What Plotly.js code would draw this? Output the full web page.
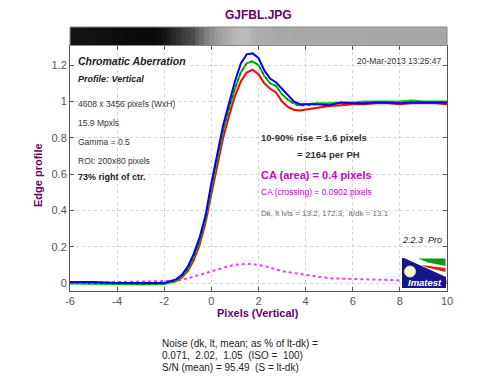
<!DOCTYPE html>
<html><head><meta charset="utf-8">
<script src="https://cdn.plot.ly/plotly-3.0.1.min.js"></script>
<style>html,body{margin:0;padding:0;background:#fff}#c{width:500px;height:384px}</style>
</head><body><div id="c"></div>
<script>
// ---- data ----
const xPix = [-6,-5,-4,-3,-2,-1.5,-1.25,-1,-0.75,-0.5,-0.25,0,0.25,0.5,0.75,1,1.25,1.5,1.75,2,2.25,2.5,2.75,3,3.25,3.5,3.75,4,4.5,5,5.5,6,6.5,7,7.5,8,8.5,9,9.5,10];
const redProfile = [0.0,0.0,-0.003,-0.005,-0.003,0.01,0.03,0.065,0.125,0.21,0.33,0.49,0.65,0.8,0.92,1.03,1.11,1.16,1.175,1.15,1.1,1.07,1.05,1.0,0.97,0.955,0.95,0.955,0.962,0.975,0.98,0.985,0.985,0.99,0.99,0.985,0.99,0.99,0.99,0.985];
const greenProfile = [-0.003,-0.003,-0.006,-0.008,-0.005,0.01,0.035,0.075,0.14,0.23,0.35,0.52,0.68,0.84,0.96,1.07,1.16,1.21,1.22,1.2,1.14,1.1,1.085,1.04,1.01,0.99,0.98,0.985,0.99,0.99,0.995,0.995,1.0,1.0,1.0,1.0,1.005,1.0,1.0,1.0];
const blueProfile = [0.005,0.005,0.0,-0.002,0.0,0.02,0.045,0.09,0.16,0.25,0.37,0.55,0.71,0.87,0.99,1.11,1.21,1.26,1.265,1.24,1.17,1.125,1.105,1.07,1.03,1.0,0.985,0.985,0.985,0.98,0.995,0.99,0.99,0.995,0.995,0.99,0.995,0.995,0.995,0.995];
const lumProfile = [0.0,0.0,-0.004,-0.006,-0.004,0.012,0.036,0.076,0.142,0.232,0.352,0.524,0.684,0.843,0.962,1.072,1.163,1.214,1.224,1.203,1.142,1.1,1.083,1.04,1.008,0.985,0.975,0.978,0.983,0.985,0.99,0.99,0.993,0.995,0.995,0.993,0.998,0.996,0.996,0.995];
const caDiff = [0.0,0.003,0.005,0.006,0.008,0.012,0.018,0.025,0.035,0.045,0.055,0.065,0.075,0.085,0.093,0.1,0.103,0.105,0.104,0.1,0.093,0.085,0.075,0.065,0.06,0.055,0.05,0.045,0.035,0.026,0.024,0.022,0.02,0.018,0.017,0.016,0.014,0.012,0.01,0.008];
// edge image strip (gray level 0-255)
const bandX = [-6,-5.5,-5,-4.5,-4,-3.5,-3,-2.5,-2.2,-2,-1.8,-1.6,-1.4,-1.2,-1,-0.8,-0.6,-0.4,-0.2,0,0.2,0.4,0.6,0.8,1,1.2,1.4,1.6,1.8,2,2.5,3,4,5,6,7,8,9,10];
const bandGray = [20,19,17,15,13,11,10,10,14,22,30,40,50,60,68,75,95,110,128,140,152,160,168,175,182,186,186,184,178,172,170,169,168,168,168,167,167,167,166];
const xTicks = [-6,-4,-2,0,2,4,6,8,10];
const xTickLabels = ['-6','-4','-2','0','2','4','6','8','10'];
const yTicks = [0,0.2,0.4,0.6,0.8,1,1.2];
const yTickLabels = ['0','0.2','0.4','0.6','0.8','1','1.2'];

// ---- layout helpers (pixel -> paper) ----
const PX = p => (p - 70) / 377;
const PY = p => (291 - p) / 264;
const FF = 'Liberation Sans, Arial, sans-serif';

const traces = [
  {x: bandX, y: [0], z: [bandGray], type: 'heatmap', xaxis: 'x', yaxis: 'y2',
   colorscale: [[0, 'rgb(0,0,0)'], [1, 'rgb(255,255,255)']], zmin: 0, zmax: 255,
   showscale: false, hoverinfo: 'skip'},
  {x: xPix, y: caDiff, mode: 'lines', line: {color: '#ff33ff', width: 2, dash: 'dot'}},
  {x: xPix, y: redProfile, mode: 'lines', line: {color: '#ff0000', width: 2}},
  {x: xPix, y: greenProfile, mode: 'lines', line: {color: '#00c800', width: 2}},
  {x: xPix, y: lumProfile, mode: 'lines', line: {color: '#333333', width: 1, dash: 'dot'}},
  {x: xPix, y: blueProfile, mode: 'lines', line: {color: '#0000ff', width: 2}}
];

function txt(t, px, py, o) {
  return Object.assign({text: t, x: PX(px), y: PY(py), xref: 'paper', yref: 'paper',
    xanchor: 'left', yanchor: 'middle', showarrow: false,
    font: {family: FF, size: 9, color: '#333'}}, o || {});
}

const annotations = [
  txt('<b>GJFBL.JPG</b>', 258, 15, {xanchor: 'center', font: {family: FF, size: 12, color: '#660066'}}),
  txt('<b>Pixels (Vertical)</b>', 258, 313, {xanchor: 'center', font: {family: FF, size: 11, color: '#660066'}}),
  txt('<b>Edge profile</b>', 38, 175, {xanchor: 'center', textangle: -90, font: {family: FF, size: 11, color: '#660066'}}),
  txt('<b><i>Chromatic Aberration</i></b>', 76, 61, {font: {family: FF, size: 10.5, color: '#222'}}),
  txt('<b><i>Profile: Vertical</i></b>', 76, 79, {font: {family: FF, size: 9, color: '#222'}}),
  txt('4608 x 3456 pixels (WxH)', 76, 104, {font: {family: FF, size: 8.5, color: '#333'}}),
  txt('15.9 Mpxls', 76, 123, {font: {family: FF, size: 8.5, color: '#333'}}),
  txt('Gamma = 0.5', 76, 142, {font: {family: FF, size: 8.5, color: '#333'}}),
  txt('ROI: 200x80 pixels', 76, 161, {font: {family: FF, size: 8.5, color: '#333'}}),
  txt('<b>73% right of ctr.</b>', 76, 177, {font: {family: FF, size: 9, color: '#222'}}),
  txt('20-Mar-2013 13:25:47', 443, 61, {xanchor: 'right', font: {family: FF, size: 8.5, color: '#333'}}),
  txt('<b>10-90% rise = 1.6 pixels</b>', 259, 137, {font: {family: FF, size: 9.5, color: '#333'}}),
  txt('<b>= 2164 per PH</b>', 295, 154, {font: {family: FF, size: 9.5, color: '#333'}}),
  txt('<b>CA (area) = 0.4 pixels</b>', 259, 175, {font: {family: FF, size: 11, color: '#cc00cc'}}),
  txt('CA (crossing) = 0.0902 pixels', 259, 192, {font: {family: FF, size: 8.5, color: '#cc00cc'}}),
  txt('Dk, lt lvls = 13.2, 172.3;  lt/dk = 13.1', 259, 213, {font: {family: FF, size: 8, color: '#666'}}),
  txt('<i>2.2.3  Pro</i>', 444, 240, {xanchor: 'right', font: {family: FF, size: 9, color: '#222'}}),
  txt('<b><i>Imatest</i></b>', 424.5, 282, {xanchor: 'center', font: {family: FF, size: 9.5, color: '#ffffff'}}),
  txt('Noise (dk, lt, mean; as % of lt-dk) =', 160, 343, {font: {family: FF, size: 10, color: '#222'}}),
  txt('0.071,  2.02,  1.05  (ISO =  100)', 160, 355, {font: {family: FF, size: 10, color: '#222'}}),
  txt('S/N (mean) = 95.49  (S = lt-dk)', 160, 367, {font: {family: FF, size: 10, color: '#222'}})
];

function poly(pts) {
  return 'M' + pts.map(p => PX(p[0]) + ',' + PY(p[1])).join('L') + 'Z';
}
const shapes = [
  {type: 'rect', xref: 'paper', yref: 'paper', x0: 0, x1: 1, y0: PY(45.5), y1: PY(27),
   line: {color: '#888', width: 1}, layer: 'above'},
  {type: 'rect', xref: 'paper', yref: 'paper', x0: PX(402), x1: PX(446), y0: PY(288), y1: PY(258),
   fillcolor: '#16168c', line: {width: 0}, layer: 'above'},
  {type: 'path', xref: 'paper', yref: 'paper', path: poly([[404, 258], [446, 258], [446, 277]]),
   fillcolor: '#ffffff', line: {width: 0}, layer: 'above'},
  {type: 'path', xref: 'paper', yref: 'paper', path: poly([[418, 258.5], [445.5, 258.5], [445.5, 266], [428, 262.5]]),
   fillcolor: '#119911', line: {width: 0}, layer: 'above'},
  {type: 'path', xref: 'paper', yref: 'paper', path: poly([[421, 265], [445.5, 268], [445.5, 272], [427, 267.5]]),
   fillcolor: '#dd2200', line: {width: 0}, layer: 'above'},
  {type: 'circle', xref: 'paper', yref: 'paper', x0: PX(404.5), x1: PX(415.5), y0: PY(277), y1: PY(266),
   fillcolor: '#ffffc8', line: {color: '#e8e8a0', width: 1}, layer: 'above'}
];

const axFont = {family: FF, size: 11, color: '#555'};
const layout = {
  width: 500, height: 384,
  margin: {l: 70, r: 53, t: 27, b: 93, pad: 0},
  paper_bgcolor: '#ffffff', plot_bgcolor: '#ffffff',
  showlegend: false,
  xaxis: {range: [-6, 10], tickvals: xTicks, ticktext: xTickLabels, ticks: 'inside', ticklen: 4, tickcolor: '#555',
    showline: true, mirror: 'ticks', linecolor: '#555', linewidth: 1,
    showgrid: true, gridcolor: '#d4d4d4', griddash: 'dot', zeroline: false,
    tickfont: axFont, anchor: 'y'},
  yaxis: {domain: [0, PY(46)], range: [-0.0441, 1.3059], tickvals: yTicks, ticktext: yTickLabels, ticks: 'inside', ticklen: 4, tickcolor: '#555',
    showline: true, mirror: 'ticks', linecolor: '#555', linewidth: 1,
    showgrid: true, gridcolor: '#d4d4d4', griddash: 'dot', zeroline: false,
    tickfont: axFont, anchor: 'x'},
  yaxis2: {domain: [PY(45.5), 1], anchor: 'x', showticklabels: false, showgrid: false,
    zeroline: false, ticks: '', range: [-0.5, 0.5]},
  annotations: annotations,
  shapes: shapes
};

Plotly.newPlot('c', traces, layout, {staticPlot: true, displayModeBar: false});
</script>
</body></html>
